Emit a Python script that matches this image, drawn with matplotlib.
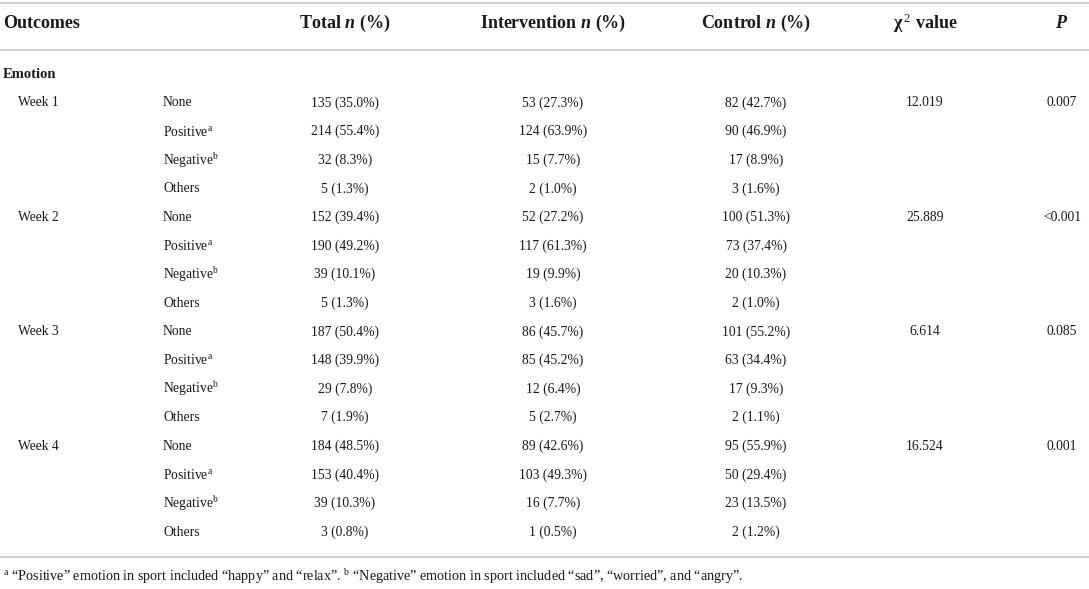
import matplotlib.pyplot as plt

plt.rcParams['font.family'] = 'Liberation Serif'
plt.rcParams['mathtext.fontset'] = 'custom'
plt.rcParams['mathtext.rm'] = 'Liberation Serif'
plt.rcParams['mathtext.it'] = 'Liberation Serif:italic:bold'
plt.rcParams['mathtext.bf'] = 'Liberation Serif:bold'

# table data
headers = ["Outcomes", "Total $n$ (%)", "Intervention $n$ (%)", "Control $n$ (%)", "χ$\\,^{2}$ value", "$P$"]
weeks = ["Week 1", "Week 2", "Week 3", "Week 4"]
levels = ["None", "Positive$^{\\mathrm{a}}$", "Negative$^{\\mathrm{b}}$", "Others"]
total_n = [[135, 214, 32, 5], [152, 190, 39, 5], [187, 148, 29, 7], [184, 153, 39, 3]]
total_pct = [[35.0, 55.4, 8.3, 1.3], [39.4, 49.2, 10.1, 1.3], [50.4, 39.9, 7.8, 1.9], [48.5, 40.4, 10.3, 0.8]]
int_n = [[53, 124, 15, 2], [52, 117, 19, 3], [86, 85, 12, 5], [89, 103, 16, 1]]
int_pct = [[27.3, 63.9, 7.7, 1.0], [27.2, 61.3, 9.9, 1.6], [45.7, 45.2, 6.4, 2.7], [42.6, 49.3, 7.7, 0.5]]
ctl_n = [[82, 90, 17, 3], [100, 73, 20, 2], [101, 63, 17, 2], [95, 50, 23, 2]]
ctl_pct = [[42.7, 46.9, 8.9, 1.6], [51.3, 37.4, 10.3, 1.0], [55.2, 34.4, 9.3, 1.1], [55.9, 29.4, 13.5, 1.2]]
chi2 = ["12.019", "25.889", "6.614", "16.524"]
p_vals = ["0.007", "<0.001", "0.085", "0.001"]
footnote = ("$^{\\mathrm{a}}$ “Positive” emotion in sport included “happy” and “relax”. "
            "$^{\\mathrm{b}}$ “Negative” emotion in sport included “sad”, “worried”, and “angry”.")

fig = plt.figure(figsize=(10.89, 5.89), dpi=100)
ax = fig.add_axes([0, 0, 1, 1])
ax.set_xlim(0, 1089)
ax.set_ylim(589, 0)
ax.axis('off')

txt = '#1a1a1a'
line_c = '#d0d0d0'
fs = 9.8

# column centres
cx = [3, 345, 553, 756, 925, 1062]

for y in [3, 50, 557]:
    ax.plot([0, 1089], [y, y], color=line_c, lw=1.5)

# header
ax.text(cx[0], 23, headers[0], ha='left', va='center', fontsize=13, fontweight='bold', color=txt)
for i in range(1, 6):
    ax.text(cx[i], 23, headers[i], ha='center', va='center', fontsize=13, fontweight='bold', color=txt)

ax.text(3, 75, "Emotion", ha='left', va='center', fontsize=10.5, fontweight='bold', color=txt)

row_h = 28.6
y0 = 103
for w in range(4):
    for k in range(4):
        y = y0 + (w * 4 + k) * row_h
        if k == 0:
            ax.text(18, y, weeks[w], ha='left', va='center', fontsize=fs, color=txt)
            ax.text(cx[4], y, chi2[w], ha='center', va='center', fontsize=fs, color=txt)
            ax.text(cx[5], y, p_vals[w], ha='center', va='center', fontsize=fs, color=txt)
        ax.text(163, y, levels[k], ha='left', va='center', fontsize=fs, color=txt)
        ax.text(cx[1], y, f"{total_n[w][k]} ({total_pct[w][k]:.1f}%)", ha='center', va='center', fontsize=fs, color=txt)
        ax.text(cx[2], y, f"{int_n[w][k]} ({int_pct[w][k]:.1f}%)", ha='center', va='center', fontsize=fs, color=txt)
        ax.text(cx[3], y, f"{ctl_n[w][k]} ({ctl_pct[w][k]:.1f}%)", ha='center', va='center', fontsize=fs, color=txt)

ax.text(3, 577, footnote, ha='left', va='center', fontsize=10.2, color=txt)

fig.savefig('out.png', dpi=100)
